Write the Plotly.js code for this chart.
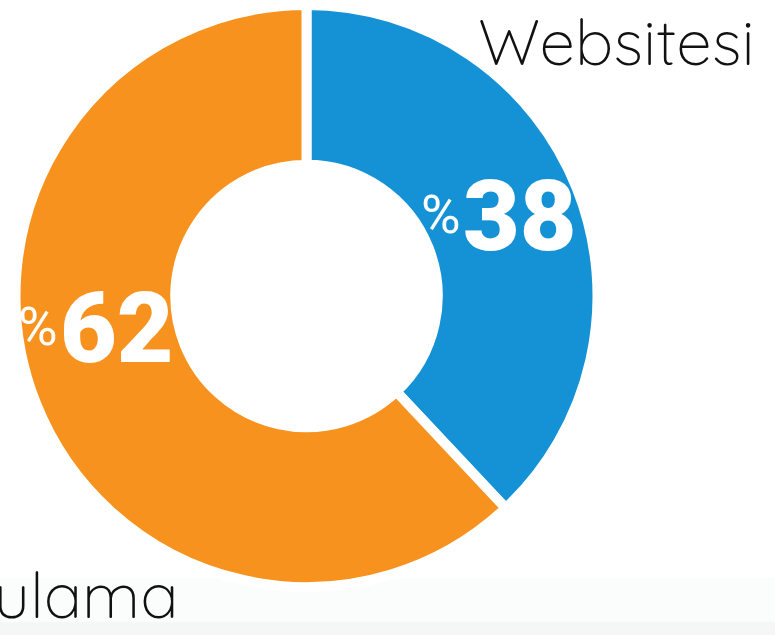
<!DOCTYPE html>
<html>
<head>
<meta charset="utf-8">
<script src="https://cdn.plot.ly/plotly-3.0.1.min.js"></script>
<style>html,body{margin:0;padding:0;background:#fff;}#chart{width:775px;height:635px;}</style>
</head>
<body>
<div id="chart"></div>
<script>
const labels = ['Websitesi', 'Uygulama'];
const values = [38, 62];
const colors = ['#1592d5', '#f7921e'];

const pie = {
  type: 'pie',
  labels: labels,
  values: values,
  sort: false,
  direction: 'clockwise',
  rotation: 0,
  hole: 0.451,
  textinfo: 'none',
  hoverinfo: 'none',
  marker: { colors: colors, line: { color: '#ffffff', width: 10 } },
  domain: { x: [15.5/775, 597.5/775], y: [48/635, 630/635] }
};

const numFont = { family: 'Roboto, Inter, sans-serif', size: 98, color: '#ffffff', weight: 900 };
const pctFont = { family: 'Roboto, sans-serif', size: 54, color: '#ffffff', weight: 400 };
const lblFont = { family: 'Quicksand, Lato, Roboto, sans-serif', size: 64, color: '#111111', weight: 350 };

// label anchor points (paper coords) for inside value texts
const valuePos = [[461/775, 1-216/635], [58/775, 1-328/635]];

const annotations = [];
values.forEach((v, i) => {
  annotations.push({ xref: 'paper', yref: 'paper', x: valuePos[i][0], y: valuePos[i][1],
    xanchor: 'left', yanchor: 'middle', text: String(v), showarrow: false, font: numFont });
  annotations.push({ xref: 'paper', yref: 'paper', x: valuePos[i][0] + 2/775, y: valuePos[i][1] + 2/635,
    xanchor: 'right', yanchor: 'middle', text: '%', showarrow: false, font: pctFont });
});
annotations.push({ xref: 'paper', yref: 'paper', x: 757/775, y: 1-41/635, xanchor: 'right', yanchor: 'middle',
  text: labels[0], showarrow: false, font: lblFont });
annotations.push({ xref: 'paper', yref: 'paper', x: 181/775, y: 1-594/635, xanchor: 'right', yanchor: 'middle',
  text: labels[1], showarrow: false, font: lblFont });

const layout = {
  width: 775, height: 635,
  margin: { l: 0, r: 0, t: 0, b: 0 },
  paper_bgcolor: '#ffffff',
  showlegend: false,
  annotations: annotations,
  shapes: [
    { type: 'rect', xref: 'paper', yref: 'paper', x0: 0, x1: 1, y0: 0, y1: 57/635, fillcolor: '#fbfcfc', line: { width: 0 }, layer: 'below' },
    { type: 'rect', xref: 'paper', yref: 'paper', x0: 0, x1: 1, y0: 0, y1: 13/635, fillcolor: '#f5f6f6', line: { width: 0 }, layer: 'below' }
  ]
};

Plotly.newPlot('chart', [pie], layout, { displayModeBar: false, staticPlot: true });
</script>
</body>
</html>
